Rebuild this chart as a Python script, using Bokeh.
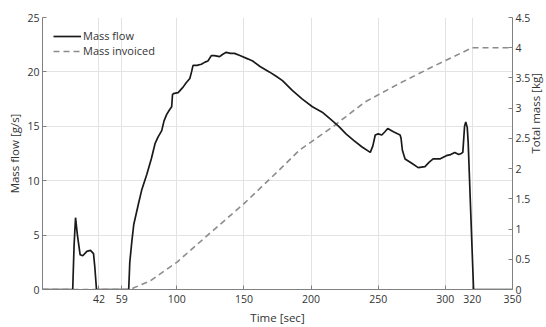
import math
from bokeh.plotting import figure
from bokeh.models import Range1d, LinearAxis, FixedTicker, Legend, LegendItem
from bokeh.embed import file_html
from bokeh.resources import INLINE

# Mass flow [g/s] vs time [sec]
flow_time = [0, 22.5, 23.5, 24.6, 26, 28, 30, 33, 35.7, 38, 39, 40.2, 58, 64.2, 65, 66.6,
             68, 71.5, 74, 77.7, 81, 83.8, 86, 88.8, 90.5, 92.5, 94.5, 96.2, 96.8, 97.4,
             101, 104.7, 107, 109.7, 111, 112.1, 115, 118.3, 121, 123.2, 125.7, 128, 131.9,
             134, 136.8, 140, 143, 147, 152.8, 156.5, 162, 168.9, 174, 178.7, 186, 193.5,
             201, 208.3, 214, 220.6, 226, 231.7, 238, 244.1, 246, 247.8, 250, 252.7, 255,
             257.1, 261.3, 266.3, 267, 268, 270, 275, 279.8, 284.8, 288, 290.9, 295.9,
             300.7, 304, 307, 310, 311.8, 313, 314.3, 315.2, 316.3, 317, 321, 350]
flow_value = [0, 0, 4.0, 6.6, 5.0, 3.2, 3.1, 3.5, 3.6, 3.3, 2.0, 0, 0, 0, 2.5, 4.5,
              6.0, 7.9, 9.2, 10.6, 12.0, 13.4, 14.0, 14.6, 15.5, 16.1, 16.5, 16.8, 17.9, 18.0,
              18.1, 18.6, 19.0, 19.4, 20.0, 20.6, 20.6, 20.7, 20.9, 21.0, 21.5, 21.5, 21.4,
              21.6, 21.8, 21.7, 21.7, 21.5, 21.2, 21.0, 20.5, 20.0, 19.6, 19.2, 18.3, 17.5,
              16.8, 16.3, 15.7, 15.0, 14.3, 13.7, 13.1, 12.6, 13.2, 14.2, 14.3, 14.2, 14.5,
              14.8, 14.5, 14.2, 13.9, 12.8, 12.0, 11.6, 11.2, 11.3, 11.7, 12.0, 12.0,
              12.3, 12.4, 12.6, 12.4, 12.5, 12.6, 15.0, 15.4, 14.9, 13.5, 0, 0]

# Mass invoiced [kg] vs time [sec]
mass_time = [0, 65, 80, 100, 120, 150, 176, 191, 216, 240, 265, 290, 320, 350]
mass_value = [0, 0, 0.14, 0.45, 0.84, 1.42, 1.97, 2.30, 2.69, 3.10, 3.40, 3.68, 4.0, 4.0]

x_ticks = [42, 59, 100, 150, 200, 250, 300, 320, 350]
flow_ticks = [0, 5, 10, 15, 20, 25]
mass_ticks = [0, 0.5, 1, 1.5, 2, 2.5, 3, 3.5, 4, 4.5]
mass_tick_labels = {0: "0", 0.5: "0.5", 1: "1", 1.5: "1.5", 2: "2", 2.5: "2.5",
                    3: "3", 3.5: "3.5", 4: "4", 4.5: "4.5"}

FONT = "Open Sans"
TXT = "#333333"
AX = "#808080"

p = figure(frame_width=470, frame_height=272, output_backend="svg", toolbar_location=None,
           x_range=Range1d(0, 350), y_range=Range1d(0, 25),
           min_border_left=42, min_border_right=0, min_border_top=17, min_border_bottom=0)
p.outline_line_color = None
p.background_fill_color = "white"

p.extra_y_ranges = {"mass": Range1d(0, 4.5)}
raxis = LinearAxis(y_range_name="mass", axis_label="Total mass [kg]",
                   ticker=FixedTicker(ticks=mass_ticks))
raxis.major_label_overrides = mass_tick_labels
raxis.axis_label_orientation = math.pi / 2
p.add_layout(raxis, "right")

p.xaxis.ticker = FixedTicker(ticks=x_ticks)
p.yaxis[0].ticker = FixedTicker(ticks=flow_ticks)
p.xaxis.axis_label = "Time [sec]"
p.yaxis[0].axis_label = "Mass flow [g/s]"

for ax in [p.xaxis[0], p.yaxis[0], raxis]:
    ax.axis_line_color = AX
    ax.major_tick_line_color = AX
    ax.major_tick_in = 4
    ax.major_tick_out = 0
    ax.minor_tick_line_color = None
    ax.major_label_text_font = FONT
    ax.major_label_text_font_size = "10.5px"
    ax.major_label_text_color = TXT
    ax.axis_label_text_font = FONT
    ax.axis_label_text_font_size = "11.5px"
    ax.axis_label_text_font_style = "normal"
    ax.axis_label_text_color = TXT
    ax.major_label_standoff = 3
    ax.axis_label_standoff = 2

p.xaxis.major_label_standoff = 5
p.xaxis.axis_label_standoff = 4

p.xgrid.ticker = FixedTicker(ticks=x_ticks)
p.ygrid.ticker = FixedTicker(ticks=flow_ticks)
p.xgrid.grid_line_color = "#e3e3e3"
p.ygrid.grid_line_color = "#e3e3e3"

r_mass = p.line(mass_time, mass_value, y_range_name="mass", line_color="#8c8c8c",
                line_width=1.6, line_dash="6 4")
r_flow = p.line(flow_time, flow_value, line_color="#1a1a1a", line_width=1.7)

legend = Legend(items=[LegendItem(label="Mass flow", renderers=[r_flow]),
                       LegendItem(label="Mass invoiced", renderers=[r_mass])],
                location="top_left")
legend.margin = 11
legend.padding = 5
legend.border_line_color = None
legend.background_fill_alpha = 0
legend.label_text_font = FONT
legend.label_text_font_size = "11px"
legend.label_text_color = TXT
legend.label_height = 12
legend.glyph_height = 12
legend.glyph_width = 28
legend.spacing = 0
legend.label_standoff = 2
p.add_layout(legend)

open("out.html", "w").write(file_html(p, INLINE))
